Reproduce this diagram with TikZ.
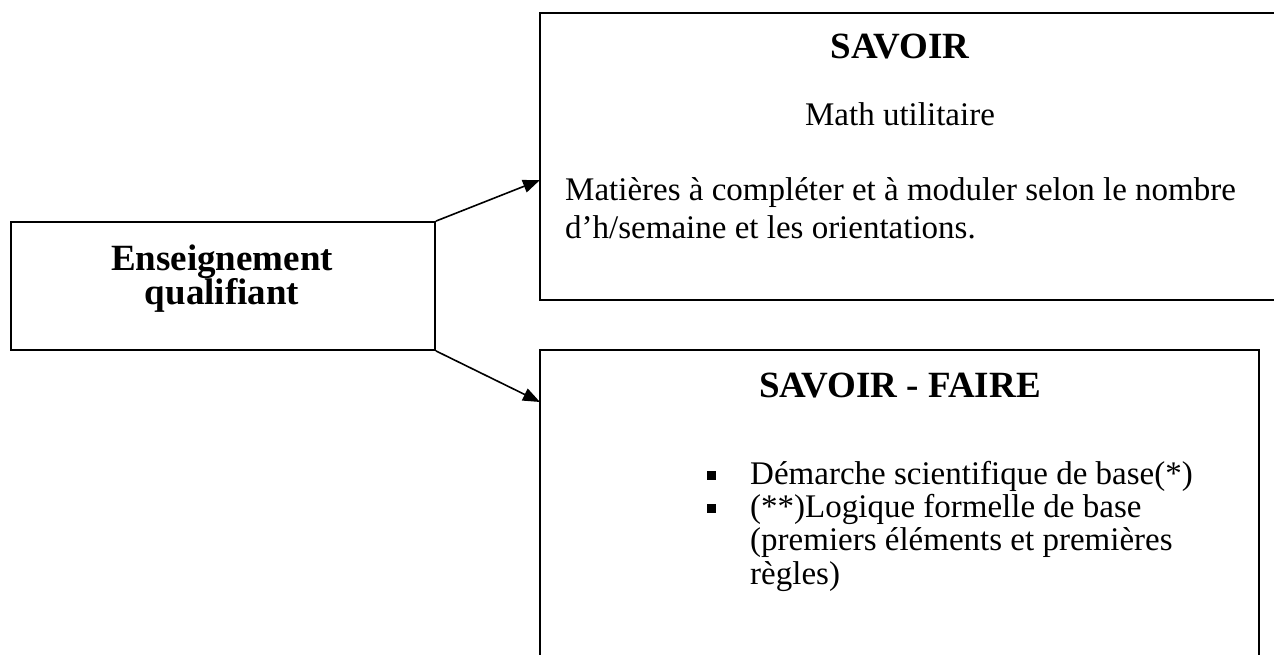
\documentclass[tikz,border=0pt]{standalone}
\usepackage{fontspec}
\setmainfont{Liberation Serif}
\usetikzlibrary{arrows.meta}
\tikzset{
  boxframe/.style={draw, line width=1.8pt, rectangle, inner sep=0pt},
  titletext/.style={inner sep=0pt, font=\fontsize{37}{44}\selectfont\bfseries},
  bodytext/.style={inner sep=0pt, font=\fontsize{33}{38}\selectfont},
  conn/.style={line width=1.6pt, -{Triangle[length=17pt,width=13pt]}},
  bulletsq/.style={fill=black, draw=none, rectangle, minimum size=9pt, inner sep=0pt}
}
\begin{document}
\begin{tikzpicture}[x=1pt,y=-1pt]
\useasboundingbox (0,0) rectangle (1274,655);
\clip (0,0) rectangle (1274,655);
% boxes
\node[boxframe, minimum width=424, minimum height=128] (eq) at (223,286) {};
\node[boxframe, minimum width=760, minimum height=287] (sav) at (920,156.5) {};
\node[boxframe, minimum width=719, minimum height=350] (sf) at (899.5,525) {};
% arrow ends
\coordinate (t1) at (540,180);
\coordinate (t2) at (540,402);
\draw[conn] (eq.north east) -- (t1);
\draw[conn] (eq.south east) -- (t2);
% left box text
\node[titletext, anchor=base] (eq1) at (222,270) {Enseignement};
\node[titletext, anchor=base] (eq2) at (222,304) {qualifiant};
% SAVOIR box text
\node[titletext, anchor=base] (savt) at (900,59) {SAVOIR};
\node[bodytext, anchor=base] (math) at (900,126) {Math utilitaire};
\node[bodytext, anchor=base west] (mat1) at (565,201) {Matières à compléter et à moduler selon le nombre};
\node[bodytext, anchor=base west] (mat2) at (565,238) {d'h/semaine et les orientations.};
% SAVOIR-FAIRE box text
\node[titletext, anchor=base] (sft) at (900,397) {SAVOIR - FAIRE};
\node[bulletsq] (b1) at (711.5,475) {};
\node[bulletsq] (b2) at (711.5,508) {};
\node[bodytext, anchor=base west] (l1) at (750,484) {Démarche scientifique de base(*)};
\node[bodytext, anchor=base west] (l2) at (750,517) {(**)Logique formelle de base};
\node[bodytext, anchor=base west] (l3) at (750,550) {(premiers éléments et premières};
\node[bodytext, anchor=base west] (l4) at (750,584) {règles)};
\end{tikzpicture}
\end{document}
